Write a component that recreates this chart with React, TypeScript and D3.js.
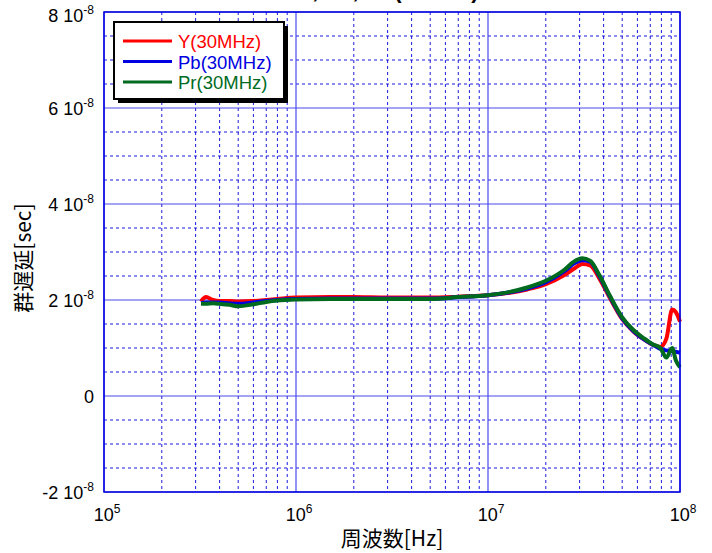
import React, { useEffect, useRef } from "react";
import * as d3 from "d3";

// frequencies in Hz
const freqs = [3.2e5, 3.4e5, 3.7e5, 4e5, 4.5e5, 5e5, 6e5, 7e5, 8e5, 1e6, 1.5e6, 2e6, 3e6, 5e6, 7e6, 1e7, 1.3e7, 1.6e7, 2e7, 2.5e7, 2.8e7, 3.1e7, 3.4e7, 3.8e7, 4.3e7, 5e7, 5.7e7, 6.5e7, 7.2e7, 7.9e7, 8.5e7, 9.1e7, 9.5e7, 1e8];
// group delay, units of 1e-8 sec
const yDelay = [1.97, 2.06, 2.0, 1.98, 1.98, 1.97, 1.98, 2.0, 2.02, 2.05, 2.06, 2.06, 2.05, 2.05, 2.07, 2.1, 2.15, 2.22, 2.33, 2.52, 2.65, 2.75, 2.72, 2.45, 2.05, 1.6, 1.35, 1.18, 1.07, 1.02, 1.2, 1.8, 1.75, 1.55];
const pbDelay = [1.94, 1.95, 1.95, 1.95, 1.93, 1.92, 1.95, 1.98, 2.0, 2.02, 2.03, 2.03, 2.03, 2.03, 2.06, 2.1, 2.16, 2.24, 2.37, 2.6, 2.76, 2.83, 2.8, 2.5, 2.08, 1.62, 1.36, 1.18, 1.07, 0.98, 0.95, 0.93, 0.92, 0.9];
const prDelay = [1.92, 1.92, 1.93, 1.92, 1.9, 1.87, 1.91, 1.96, 1.99, 2.01, 2.02, 2.02, 2.02, 2.02, 2.06, 2.1, 2.17, 2.26, 2.4, 2.63, 2.8, 2.87, 2.82, 2.52, 2.1, 1.64, 1.38, 1.2, 1.08, 1.0, 0.8, 1.0, 0.75, 0.6];

const seriesNames = ["Y(30MHz)", "Pb(30MHz)", "Pr(30MHz)"];
const seriesColors = ["#ff0000", "#0000e0", "#006b1f"];
const yTicks = [-2, 0, 2, 4, 6, 8];
const xDecades = [5, 6, 7, 8];
const titleText = "Y, Pb, Pr (30MHz)";

const W = 712, H = 553;
const M = { left: 104, right: 680, top: 12, bottom: 492 };
const FONT = "Liberation Sans, Arial, sans-serif";
const CJK = "Noto Sans CJK JP";

export default function App() {
  const ref = useRef<SVGSVGElement>(null);

  useEffect(() => {
    const svg = d3.select(ref.current);
    svg.selectAll("*").remove();

    const x = d3.scaleLog().domain([1e5, 1e8]).range([M.left, M.right]);
    const y = d3.scaleLinear().domain([-2, 8]).range([M.bottom, M.top]);

    svg.append("rect").attr("width", W).attr("height", H).attr("fill", "#fff");

    // title, clipped at the top edge as in the original
    svg.append("text")
      .attr("x", 300).attr("y", -2)
      .attr("font-family", FONT)
      .attr("font-weight", "bold")
      .attr("font-size", 22)
      .text(titleText);

    const grid = svg.append("g");
    // minor vertical
    const minorX: number[] = [];
    for (let e = 5; e < 8; e++) for (let k = 2; k <= 9; k++) minorX.push(k * Math.pow(10, e));
    grid.selectAll("line.mx").data(minorX).join("line")
      .attr("x1", d => x(d)).attr("x2", d => x(d))
      .attr("y1", M.top).attr("y2", M.bottom)
      .attr("stroke", "#1a1ae0").attr("stroke-width", 1)
      .attr("stroke-dasharray", "3,3");
    // minor horizontal
    const minorY = d3.range(-2, 8.01, 0.5).filter(v => !yTicks.includes(v));
    grid.selectAll("line.my").data(minorY).join("line")
      .attr("x1", M.left).attr("x2", M.right)
      .attr("y1", d => y(d)).attr("y2", d => y(d))
      .attr("stroke", "#1a1ae0").attr("stroke-width", 1)
      .attr("stroke-dasharray", "3,3");
    // major
    grid.selectAll("line.Mx").data(xDecades).join("line")
      .attr("x1", d => x(Math.pow(10, d))).attr("x2", d => x(Math.pow(10, d)))
      .attr("y1", M.top).attr("y2", M.bottom)
      .attr("stroke", "#4a4af0").attr("stroke-width", 1.2);
    grid.selectAll("line.My").data(yTicks).join("line")
      .attr("x1", M.left).attr("x2", M.right)
      .attr("y1", d => y(d)).attr("y2", d => y(d))
      .attr("stroke", "#4a4af0").attr("stroke-width", 1.2);

    // curves
    const line = d3.line<number>()
      .x((_, i) => x(freqs[i]))
      .y(d => y(d))
      .curve(d3.curveMonotoneX);
    [yDelay, pbDelay, prDelay].forEach((vals, i) => {
      svg.append("path")
        .attr("d", line(vals))
        .attr("fill", "none")
        .attr("stroke", seriesColors[i])
        .attr("stroke-width", 4)
        .attr("stroke-linejoin", "round");
    });

    // frame
    svg.append("rect")
      .attr("x", M.left).attr("y", M.top)
      .attr("width", M.right - M.left).attr("height", M.bottom - M.top)
      .attr("fill", "none").attr("stroke", "#0000e0").attr("stroke-width", 1.5);

    // y tick labels
    const lab = svg.append("g").attr("font-family", FONT).attr("font-size", 18).attr("fill", "#000");
    yTicks.forEach(v => {
      const t = lab.append("text").attr("x", 94).attr("y", y(v) + (v === 8 ? 10 : 7)).attr("text-anchor", "end");
      if (v === 0) { t.text("0"); return; }
      t.append("tspan").text(`${v} 10`);
      t.append("tspan").attr("font-size", 12).attr("dy", -8).text("-8");
    });

    // x tick labels
    xDecades.forEach(e => {
      const t = lab.append("text").attr("x", x(Math.pow(10, e)) + 3).attr("y", 521).attr("text-anchor", "middle");
      t.append("tspan").text("10");
      t.append("tspan").attr("font-size", 12).attr("dy", -8).text(`${e}`);
    });

    // axis titles
    svg.append("text")
      .attr("x", 392).attr("y", 546).attr("text-anchor", "middle")
      .attr("font-family", CJK).attr("font-size", 21)
      .text("周波数[Hz]");
    svg.append("text")
      .attr("transform", `translate(31,258) rotate(-90)`)
      .attr("text-anchor", "middle")
      .attr("font-family", CJK).attr("font-size", 21)
      .text("群遅延[sec]");

    // legend
    const lg = svg.append("g");
    lg.append("rect").attr("x", 118).attr("y", 26).attr("width", 170).attr("height", 77).attr("fill", "#000");
    lg.append("rect").attr("x", 114).attr("y", 22).attr("width", 170).attr("height", 77)
      .attr("fill", "#fff").attr("stroke", "#000").attr("stroke-width", 2);
    seriesNames.forEach((n, i) => {
      const yy = 41 + i * 20.5;
      lg.append("line").attr("x1", 123).attr("x2", 172).attr("y1", yy).attr("y2", yy)
        .attr("stroke", seriesColors[i]).attr("stroke-width", 3);
      lg.append("text").attr("x", 178).attr("y", yy + 7)
        .attr("font-family", FONT).attr("font-size", 18.5)
        .attr("fill", seriesColors[i]).text(n);
    });
  }, []);

  return <svg ref={ref} width={W} height={H} style={{ position: "absolute", left: 0, top: 0 }} />;
}
